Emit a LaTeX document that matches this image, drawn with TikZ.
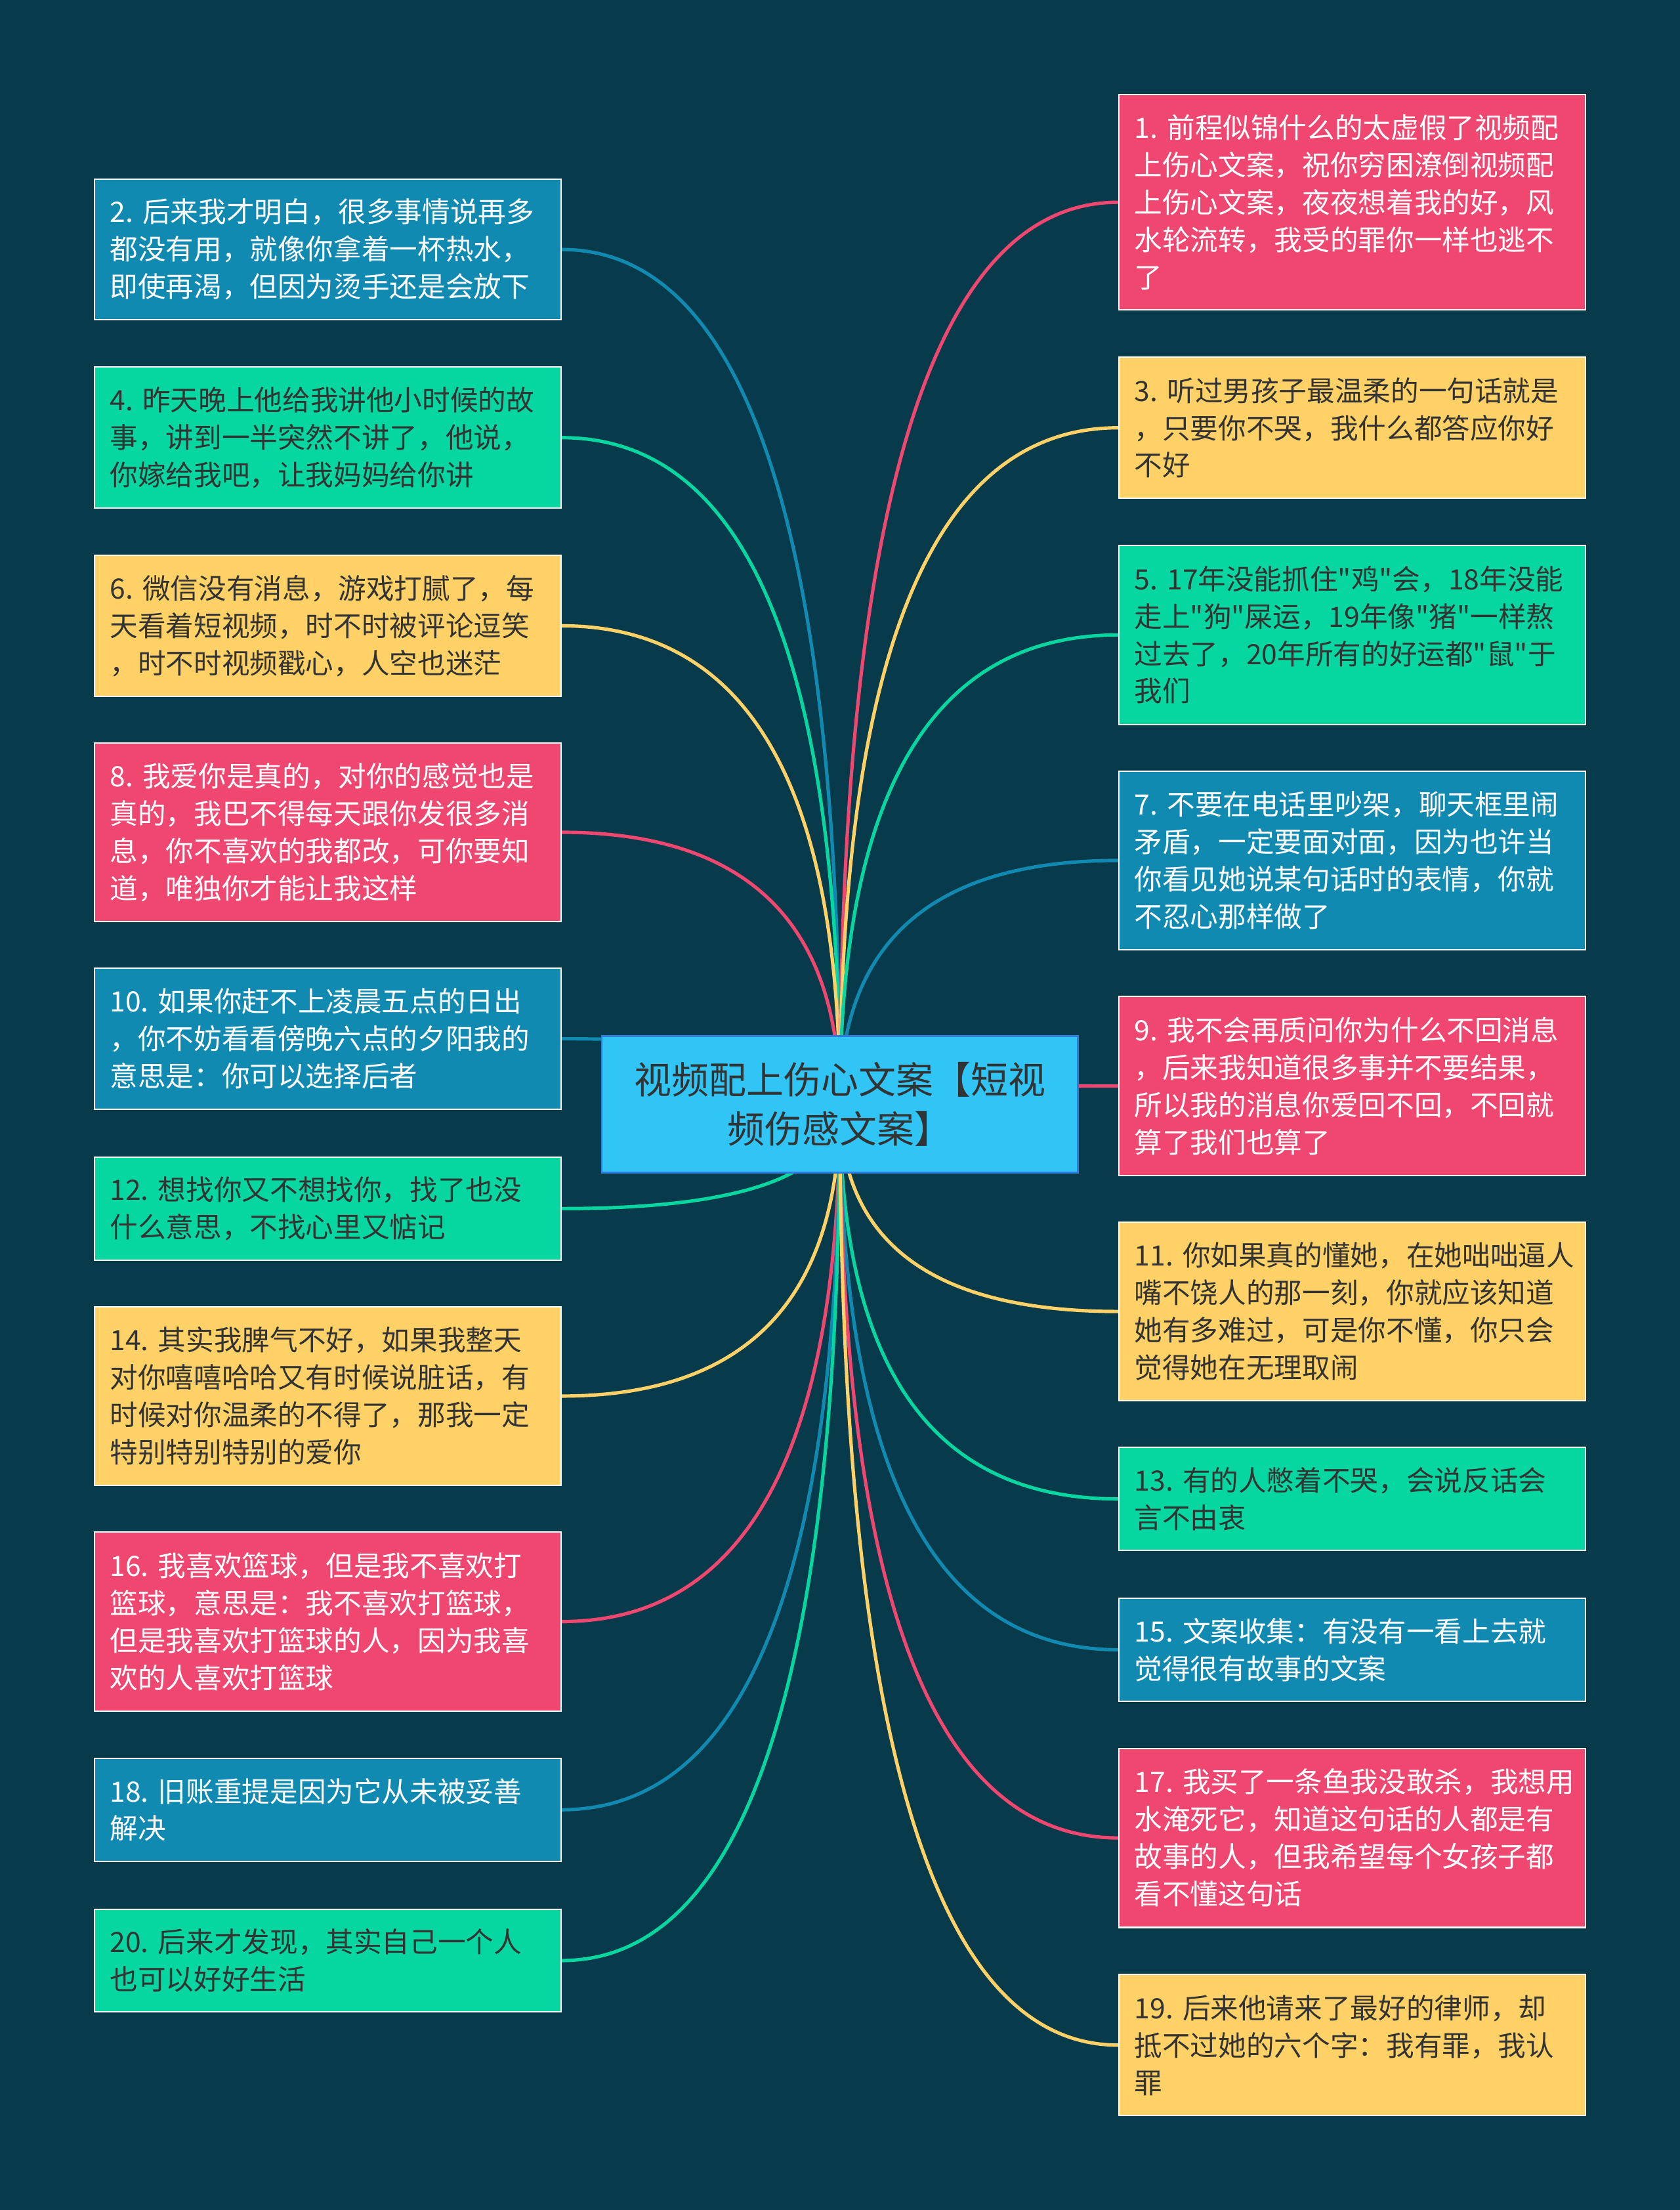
\documentclass[tikz,border=0pt]{standalone}
\usepackage{fontspec}
\setmainfont{Noto Sans CJK SC}[Ligatures=TeXOff]
\usetikzlibrary{calc}
\pgfdeclarelayer{bg}
\pgfsetlayers{bg,main}
\definecolor{bgc}{HTML}{073B4C}
\definecolor{cred}{HTML}{EF476F}
\definecolor{cyel}{HTML}{FFD166}
\definecolor{cgrn}{HTML}{06D6A0}
\definecolor{cblu}{HTML}{118AB2}
\definecolor{rootfill}{HTML}{30C5F5}
\definecolor{rootline}{HTML}{2E7CE0}
\definecolor{dtext}{HTML}{333333}
\tikzset{
  leaf/.style={draw=white, line width=0.55pt, text width=6.18cm, inner xsep=0.22cm, inner ysep=0pt,
    align=left, font=\fontsize{11.3pt}{15.08pt}\selectfont, anchor=center},
  lred/.style={leaf, fill=cred, text=white},
  lyel/.style={leaf, fill=cyel, text=dtext},
  lgrn/.style={leaf, fill=cgrn, text=dtext},
  lblu/.style={leaf, fill=cblu, text=white},
  hb/.style={minimum height=1.46cm},
  hc/.style={minimum height=2.0cm},
  hd/.style={minimum height=2.54cm},
  he/.style={minimum height=3.05cm},
  rootbox/.style={draw=rootline, line width=0.7pt, fill=rootfill, text=dtext, align=center,
    minimum width=6.76cm, minimum height=1.94cm, inner sep=0pt,
    font=\fontsize{15.1pt}{19.9pt}\selectfont},
  conn/.style={draw=#1, line width=1.37pt}
}
\newcommand\myconn[3]{%
  \coordinate (tmpC) at (root.center |- #2.#3);
  \draw[conn=#1] (root.center) .. controls ($(root.center)!0.6667!(tmpC)$) and ($(#2.#3)!0.6667!(tmpC)$) .. (#2.#3);
}
\begin{document}
\begin{tikzpicture}[x=0.02cm, y=-0.02cm]
\useasboundingbox (0,0) rectangle (1192,1568);
\begin{pgfonlayer}{bg}
\fill[bgc] (0,0) rectangle (1192,1568);
\end{pgfonlayer}

\node[rootbox] (root) at (596,783.5) {视频配上伤心文案【短视\\频伤感文案】};

% left column
\node[lblu,hc] (n2) at (232.5,177) {2.~后来我才明白，很多事情说再多\\都没有用，就像你拿着一杯热水，\\即使再渴，但因为烫手还是会放下};
\node[lgrn,hc] (n4) at (232.5,310.5) {4.~昨天晚上他给我讲他小时候的故\\事，讲到一半突然不讲了，他说，\\你嫁给我吧，让我妈妈给你讲};
\node[lyel,hc] (n6) at (232.5,444) {6.~微信没有消息，游戏打腻了，每\\天看着短视频，时不时被评论逗笑\\，时不时视频戳心，人空也迷茫};
\node[lred,hd] (n8) at (232.5,590.5) {8.~我爱你是真的，对你的感觉也是\\真的，我巴不得每天跟你发很多消\\息，你不喜欢的我都改，可你要知\\道，唯独你才能让我这样};
\node[lblu,hc] (n10) at (232.5,737) {10.~如果你赶不上凌晨五点的日出\\，你不妨看看傍晚六点的夕阳我的\\意思是：你可以选择后者};
\node[lgrn,hb] (n12) at (232.5,857.5) {12.~想找你又不想找你，找了也没\\什么意思，不找心里又惦记};
\node[lyel,hd] (n14) at (232.5,990.5) {14.~其实我脾气不好，如果我整天\\对你嘻嘻哈哈又有时候说脏话，有\\时候对你温柔的不得了，那我一定\\特别特别特别的爱你};
\node[lred,hd] (n16) at (232.5,1150.5) {16.~我喜欢篮球，但是我不喜欢打\\篮球，意思是：我不喜欢打篮球，\\但是我喜欢打篮球的人，因为我喜\\欢的人喜欢打篮球};
\node[lblu,hb] (n18) at (232.5,1284) {18.~旧账重提是因为它从未被妥善\\解决};
\node[lgrn,hb] (n20) at (232.5,1391) {20.~后来才发现，其实自己一个人\\也可以好好生活};

% right column
\node[lred,he] (n1) at (959.5,143.5) {1.~前程似锦什么的太虚假了视频配\\上伤心文案，祝你穷困潦倒视频配\\上伤心文案，夜夜想着我的好，风\\水轮流转，我受的罪你一样也逃不\\了};
\node[lyel,hc] (n3) at (959.5,303.5) {3.~听过男孩子最温柔的一句话就是\\，只要你不哭，我什么都答应你好\\不好};
\node[lgrn,hd] (n5) at (959.5,450.5) {5.~17年没能抓住"鸡"会，18年没能\\走上"狗"屎运，19年像"猪"一样熬\\过去了，20年所有的好运都"鼠"于\\我们};
\node[lblu,hd] (n7) at (959.5,610.5) {7.~不要在电话里吵架，聊天框里闹\\矛盾，一定要面对面，因为也许当\\你看见她说某句话时的表情，你就\\不忍心那样做了};
\node[lred,hd] (n9) at (959.5,770.5) {9.~我不会再质问你为什么不回消息\\，后来我知道很多事并不要结果，\\所以我的消息你爱回不回，不回就\\算了我们也算了};
\node[lyel,hd] (n11) at (959.5,930.5) {11.~你如果真的懂她，在她咄咄逼人\\嘴不饶人的那一刻，你就应该知道\\她有多难过，可是你不懂，你只会\\觉得她在无理取闹};
\node[lgrn,hb] (n13) at (959.5,1063.5) {13.~有的人憋着不哭，会说反话会\\言不由衷};
\node[lblu,hb] (n15) at (959.5,1170.5) {15.~文案收集：有没有一看上去就\\觉得很有故事的文案};
\node[lred,hd] (n17) at (959.5,1304) {17.~我买了一条鱼我没敢杀，我想用\\水淹死它，知道这句话的人都是有\\故事的人，但我希望每个女孩子都\\看不懂这句话};
\node[lyel,hc] (n19) at (959.5,1451) {19.~后来他请来了最好的律师，却\\抵不过她的六个字：我有罪，我认\\罪};

\begin{pgfonlayer}{bg}
\myconn{cblu}{n2}{east}
\myconn{cgrn}{n4}{east}
\myconn{cyel}{n6}{east}
\myconn{cred}{n8}{east}
\myconn{cblu}{n10}{east}
\myconn{cgrn}{n12}{east}
\myconn{cyel}{n14}{east}
\myconn{cred}{n16}{east}
\myconn{cblu}{n18}{east}
\myconn{cgrn}{n20}{east}
\myconn{cred}{n1}{west}
\myconn{cyel}{n3}{west}
\myconn{cgrn}{n5}{west}
\myconn{cblu}{n7}{west}
\myconn{cred}{n9}{west}
\myconn{cyel}{n11}{west}
\myconn{cgrn}{n13}{west}
\myconn{cblu}{n15}{west}
\myconn{cred}{n17}{west}
\myconn{cyel}{n19}{west}
\end{pgfonlayer}
\end{tikzpicture}
\end{document}
